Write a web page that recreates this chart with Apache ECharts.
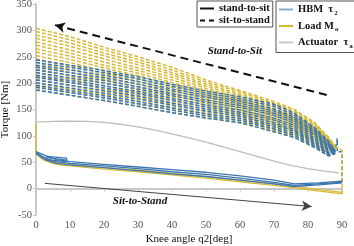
<!DOCTYPE html>
<html><head><meta charset="utf-8">
<script src="https://cdn.jsdelivr.net/npm/echarts@6/dist/echarts.min.js"></script>
<style>html,body{margin:0;padding:0;background:#fff}#c{width:354px;height:246px}</style>
</head><body><div id="c"></div>
<script>
// ---------- data ----------
const xTicks = [0,10,20,30,40,50,60,70,80,90];
const yTicks = [-50,0,50,100,150,200,250,300,350];

// stand-to-sit (dashed) band, knee angle samples
const bandX = [0,10,20,30,40,50,60,70,76,82,86,88];
const loadDownCurves = [
  [304,288,268,250,230,206,186,165,150,125,98,80],
  [298,282,263,245,225,202,183,162,147,123,96,79],
  [291,276,257,240,220,198,179,159,144,120,94,78],
  [285,270,252,235,216,194,176,156,141,118,92,78],
  [278,263,246,229,211,190,172,152,138,115,90,77],
  [272,257,240,224,206,186,169,149,135,112,88,76],
  [265,251,234,219,201,182,166,146,132,109,86,75],
  [259,245,229,214,197,178,163,143,129,107,84,75],
  [252,239,223,208,192,174,159,140,126,104,82,74],
  [246,233,218,203,187,170,156,137,124,102,80,73],
  [239,226,212,198,182,166,152,133,121,99,78,72],
  [233,220,207,193,178,162,149,130,118,97,76,72],
  [226,214,201,187,173,158,145,127,115,94,74,71],
  [220,208,195,182,168,154,142,124,112,91,72,70],
  [213,202,189,177,163,150,139,121,109,88,70,69],
  [207,196,184,172,159,146,136,118,106,86,68,69],
  [200,189,178,166,154,142,132,114,103,83,66,68],
  [194,183,173,161,149,138,129,111,100,81,64,67],
  [187,177,167,156,144,134,125,108,97,78,62,66]
];
const hbmDownCurves = [
  [244,234,224,212,198,185,174,160,143,115,90,72],
  [239,230,220,208,194,181,170,156,139,112,88,72],
  [234,225,215,203,189,177,166,151,135,109,85,71],
  [230,220,210,198,185,173,162,147,132,106,83,71],
  [225,215,205,193,180,168,158,143,128,103,81,70],
  [220,210,200,189,176,164,154,139,124,100,79,70],
  [215,205,195,184,171,159,149,134,120,96,76,69],
  [211,201,191,180,167,155,145,130,116,93,74,69],
  [206,196,186,175,162,151,141,125,112,90,71,68],
  [201,191,181,170,158,147,137,121,109,87,69,68],
  [196,186,176,165,153,142,133,117,105,84,67,67],
  [192,182,172,161,149,138,129,113,101,81,65,67],
  [187,177,167,156,144,134,125,108,97,78,62,66]
];

// connectors at q2 = 90
const loadEndX = [90,90,88];
const loadEndY = [-10,72,80];
const hbmEndX = [90,90,88.6,88.6,88];
const hbmEndY = [12,70,70,95,72];

// sit-to-stand (solid)
const lowX = [0,3,6,10,20,30,40,50,60,70,76,83,90];
const hbmUp1 = [70,62,55,51,46,41,36,31,24,16,9,11,14];
const hbmUp2 = [68,57,51,48,43,38,32,27,20,12,6,9,12];
const hbmUp3 = [66,54,48,45,40,34,28,23,16,9,4,7,11];
const hbmLoopX = [3,9,9,3,3,9];
const hbmLoopY = [61,58,51,55,59,54];

const loadUp1X = [0,0,2,5,8,10,20,30,40,50,60,70,80,90];
const loadUp1  = [124,70,58,51,47,46,40,35,29,23,16,9,1,-7];
const loadUp2X = [0,2,5,8,10,20,30,40,50,60,70,80,90];
const loadUp2  = [66,55,48,44,43,37,32,26,20,13,6,-2,-10];

// actuator torque
const actX = [0,5,10,15,20,25,30,35,40,45,50,55,60,65,70,75,80,85,89];
const actY = [126,127.5,128,127.5,125.5,122,117,111,104,96,88,79,70,61,52,44,38,33,30];

// annotations
const downArrow = [[85.5,177.5],[5.6,310]];
const upArrow = [[2.6,10],[81.1,-34]];
const downText = {x:58.5, y:261, text:'Stand-to-Sit'};
const upText = {x:30.6, y:-23.5, text:'Sit-to-Stand'};

// ---------- chart ----------
const BLUE = '#3c76b0', YEL = '#d6b935', GRAY = '#bdbdbd';
const FONT = 'Liberation Serif';
const zip = (xs, ys) => xs.map((x,i)=>[x, ys[i]]);
const series = [];
function addLine(xs, ys, color, dashed, width){
  series.push({type:'line', data: zip(xs,ys), symbol:'none', silent:true, animation:false,
    lineStyle:{color, width: width||1.5, type: dashed ? [4,2] : 'solid'}, z: 2});
}
loadDownCurves.forEach(a=>addLine(bandX,a,YEL,true));
hbmDownCurves.forEach(a=>addLine(bandX,a,BLUE,true));
addLine(hbmEndX,hbmEndY,BLUE,true);
addLine(loadEndX,loadEndY,YEL,true);
addLine(actX,actY,GRAY,false,1.3);
addLine(loadUp1X,loadUp1,YEL,false,1.3);
addLine(loadUp2X,loadUp2,YEL,false,1.3);
[hbmUp1,hbmUp2,hbmUp3].forEach(a=>addLine(lowX,a,BLUE,false,1.3));
addLine(hbmLoopX,hbmLoopY,BLUE,false,1.2);

// annotations
series.push({type:'line', data:[], silent:true, animation:false,
  markLine:{silent:true, animation:false, symbol:['none','arrow'], symbolSize:[8,10],
    label:{show:false},
    data:[
      [{coord:downArrow[0], lineStyle:{color:'#111', width:2, type:[8,5]}}, {coord:downArrow[1]}],
      [{coord:upArrow[0], lineStyle:{color:'#444', width:1, type:'solid'}, symbolSize:[7,9]}, {coord:upArrow[1]}]
    ]},
  markPoint:{silent:true, animation:false, symbol:'rect', symbolSize:1, itemStyle:{color:'rgba(0,0,0,0)'},
    label:{show:true, position:'inside', fontFamily:FONT, fontStyle:'italic', fontWeight:'bold', fontSize:11, color:'#111',
      formatter: p => p.name},
    data:[{coord:[downText.x,downText.y], name:downText.text},{coord:[upText.x,upText.y], name:upText.text}]}
});

// legend proxies
const SOLID_ICON = 'path://M0,0h14v2h-14z';
const DASH_ICON = 'path://M0,0h5v2h-5zM9,0h5v2h-5z';
const legendSeries = [
  {name:'stand-to-sit', color:'#111', icon:SOLID_ICON},
  {name:'sit-to-stand', color:'#111', icon:DASH_ICON},
  {name:'HBM τ2', color:'#86aad2', icon:SOLID_ICON},
  {name:'Load Mo', color:'#d6b935', icon:SOLID_ICON},
  {name:'Actuator τa', color:'#c8c8c8', icon:SOLID_ICON}
];
legendSeries.forEach(l=>series.push({type:'line', name:l.name, data:[], symbol:'none',
  itemStyle:{color:l.color}, lineStyle:{color:l.color, width:2}}));
const legendItem = n => { const l = legendSeries.find(s=>s.name===n); return {name:n, icon:l.icon}; };

const rich = {
  n:{fontFamily:FONT, fontWeight:'bold', fontSize:10.5, color:'#111'},
  s:{fontFamily:FONT, fontWeight:'bold', fontSize:7, color:'#111', padding:[7,0,0,1]}
};
const legFmt = name => {
  if (name==='HBM τ2') return '{n|HBM  τ}{s|2}';
  if (name==='Load Mo') return '{n|Load M}{s|o}';
  if (name==='Actuator τa') return '{n|Actuator  τ}{s|a}';
  return '{n|'+name+'}';
};
const legendBase = {orient:'vertical', itemWidth:14, itemHeight:2,
  borderColor:'#555', borderWidth:1, backgroundColor:'#fff', selectedMode:false,
  textStyle:{rich}, formatter: legFmt};

const chart = echarts.init(document.getElementById('c'), null, {renderer:'canvas'});
chart.setOption({
  animation:false,
  backgroundColor:'#fff',
  grid:{left:36, right:12, top:4, bottom:31, containLabel:false, outerBoundsMode:'none'},
  legend:[
    Object.assign({}, legendBase, {left:197, top:1, padding:[2,3,1,3], itemGap:1,
      data:['stand-to-sit','sit-to-stand'].map(legendItem)}),
    Object.assign({}, legendBase, {left:276, top:1, padding:[3,3,3,3], itemGap:4,
      data:['HBM τ2','Load Mo','Actuator τa'].map(legendItem)})
  ],
  xAxis:{type:'value', min:xTicks[0], max:xTicks[xTicks.length-1], interval:10,
    name:'Knee angle q2[deg]', nameLocation:'middle', nameGap:19, nameMoveOverlap:false,
    nameTextStyle:{fontFamily:FONT, fontSize:11, color:'#111'},
    axisLine:{lineStyle:{color:'#c8c8c8', width:2}},
    axisTick:{show:true, length:3, lineStyle:{color:'#c8c8c8'}},
    axisLabel:{fontFamily:FONT, fontSize:10.5, color:'#555', margin:5},
    splitLine:{show:false}},
  yAxis:{type:'value', min:yTicks[0], max:yTicks[yTicks.length-1], interval:50,
    name:'Torque [Nm]', nameLocation:'middle', nameGap:25, nameRotate:90, nameMoveOverlap:false,
    nameTextStyle:{fontFamily:FONT, fontSize:11, color:'#111'},
    axisLine:{show:true, lineStyle:{color:'#c8c8c8', width:2}},
    axisTick:{show:true, length:3, lineStyle:{color:'#c8c8c8'}},
    axisLabel:{fontFamily:FONT, fontSize:10.5, color:'#555', margin:4},
    splitLine:{show:false}},
  series
});
</script></body></html>
